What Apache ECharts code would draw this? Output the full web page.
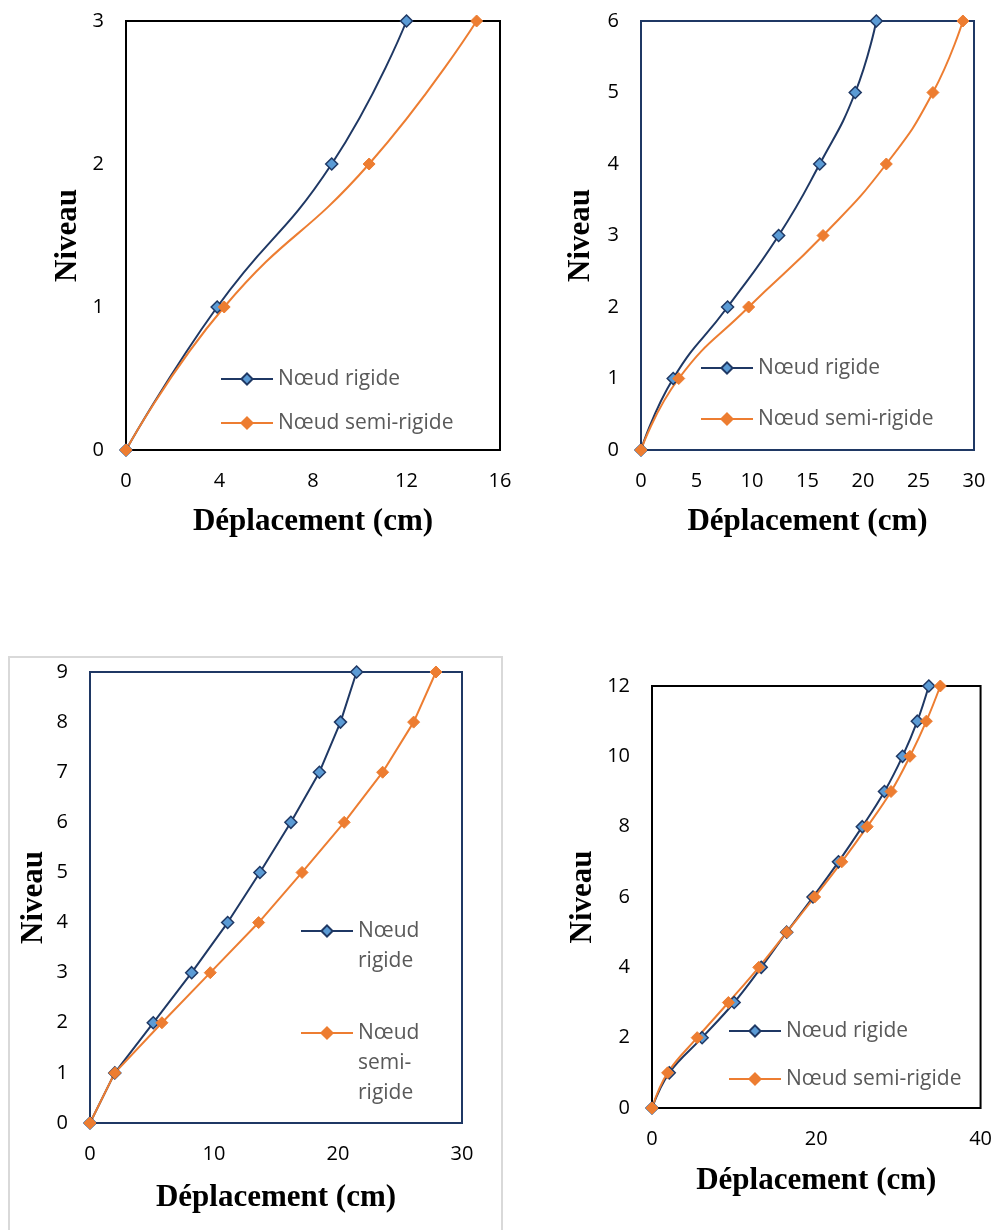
<!DOCTYPE html>
<html>
<head>
<meta charset="utf-8">
<script src="https://cdn.jsdelivr.net/npm/echarts@6/dist/echarts.min.js"></script>
<style>
  html, body { margin: 0; padding: 0; background: #fff; }
  #chart { width: 995px; height: 1230px; }
</style>
</head>
<body>
<div id="chart"></div>
<script>
// ---- Data ----
const seriesNames = ['Nœud rigide', 'Nœud semi-rigide'];

const levels1 = [0, 1, 2, 3];
const rigid1  = [0, 3.9, 8.8, 12.0];
const semi1   = [0, 4.2, 10.4, 15.0];

const levels2 = [0, 1, 2, 3, 4, 5, 6];
const rigid2  = [0, 2.9, 7.8, 12.4, 16.1, 19.3, 21.2];
const semi2   = [0, 3.4, 9.7, 16.4, 22.1, 26.3, 29.0];

const levels3 = [0, 1, 2, 3, 4, 5, 6, 7, 8, 9];
const rigid3  = [0, 2.0, 5.1, 8.2, 11.1, 13.7, 16.2, 18.5, 20.2, 21.5];
const semi3   = [0, 2.0, 5.8, 9.7, 13.6, 17.1, 20.5, 23.6, 26.1, 27.9];

const levels4 = [0, 1, 2, 3, 4, 5, 6, 7, 8, 9, 10, 11, 12];
const rigid4  = [0, 2.1, 6.1, 10.0, 13.3, 16.4, 19.6, 22.7, 25.6, 28.3, 30.5, 32.3, 33.7];
const semi4   = [0, 1.9, 5.5, 9.3, 13.0, 16.4, 19.8, 23.1, 26.2, 29.1, 31.4, 33.4, 35.1];

const xAxisTitle = 'Déplacement (cm)';
const yAxisTitle = 'Niveau';

// ---- Styles ----
const NAVY = '#1F3864';
const LIGHTBLUE = '#5B9BD5';
const ORANGE = '#ED7D31';
const tickFont = { fontFamily: 'Open Sans', fontSize: 20, color: '#000' };
const titleFont = { fontFamily: 'Liberation Serif', fontWeight: 'bold', fontSize: 31, color: '#000' };
const legendFont = { fontFamily: 'Open Sans', fontSize: 21, color: '#595959' };

function pairs(xs, ys) { return ys.map((y, i) => [xs[i], y]); }

const grids = [
  { left: 126, top: 21, width: 374, height: 429, borderColor: '#000' },
  { left: 641, top: 21, width: 333, height: 429, borderColor: NAVY },
  { left: 90,  top: 672, width: 372, height: 451, borderColor: NAVY },
  { left: 652, top: 686, width: 330, height: 422, borderColor: '#000' }
];
const xCfg = [
  { max: 16, interval: 4, nameGap: 56 },
  { max: 30, interval: 5, nameGap: 56 },
  { max: 30, interval: 10, nameGap: 59 },
  { max: 40, interval: 20, nameGap: 57 }
];
const yCfg = [
  { max: 3, interval: 1, nameGap: 43 },
  { max: 6, interval: 1, nameGap: 45 },
  { max: 9, interval: 1, nameGap: 41 },
  { max: 12, interval: 2, nameGap: 54 }
];
const smoothCfg = [true, true, false, 0.4];
const dataSets = [
  [levels1, rigid1, semi1],
  [levels2, rigid2, semi2],
  [levels3, rigid3, semi3],
  [levels4, rigid4, semi4]
];

const option = {
  animation: false,
  backgroundColor: '#fff',
  graphic: [{
    type: 'rect', z: -10,
    shape: { x: 9, y: 657, width: 493, height: 600 },
    style: { fill: 'none', stroke: '#D9D9D9', lineWidth: 2 }
  }],
  grid: grids.map(g => ({
    left: g.left, top: g.top, width: g.width, height: g.height,
    show: true, borderColor: g.borderColor, borderWidth: 2, backgroundColor: 'transparent'
  })),
  xAxis: xCfg.map((c, i) => ({
    type: 'value', gridIndex: i, min: 0, max: c.max, interval: c.interval,
    axisLine: { show: false }, axisTick: { show: false }, splitLine: { show: false },
    axisLabel: Object.assign({ margin: 21 }, tickFont),
    name: xAxisTitle, nameLocation: 'middle', nameGap: c.nameGap, nameTextStyle: titleFont
  })),
  yAxis: yCfg.map((c, i) => ({
    type: 'value', gridIndex: i, min: 0, max: c.max, interval: c.interval,
    axisLine: { show: false }, axisTick: { show: false }, splitLine: { show: false },
    axisLabel: Object.assign({ margin: 22 }, tickFont),
    name: yAxisTitle, nameLocation: 'middle', nameGap: c.nameGap, nameTextStyle: titleFont
  })),
  legend: [
    { left: 220, top: 367, itemGap: 20 },
    { left: 700, top: 356, itemGap: 27 },
    { left: 728, top: 1019, itemGap: 24 }
  ].map(l => ({
    orient: 'vertical', left: l.left, top: l.top, itemGap: l.itemGap, padding: 0,
    itemWidth: 52, itemHeight: 14, data: seriesNames,
    textStyle: Object.assign({ lineHeight: 24 }, legendFont)
  })).concat([
    {
      orient: 'vertical', left: 300, top: 886, padding: 0, itemWidth: 52, itemHeight: 14,
      data: [seriesNames[0]], formatter: () => '\nNœud\nrigide',
      textStyle: Object.assign({ lineHeight: 30 }, legendFont)
    },
    {
      orient: 'vertical', left: 300, top: 958, padding: 0, itemWidth: 52, itemHeight: 14,
      data: [seriesNames[1]], formatter: () => '\n\nNœud\nsemi-\nrigide',
      textStyle: Object.assign({ lineHeight: 30 }, legendFont)
    }
  ]),
  series: []
};

dataSets.forEach((d, i) => {
  const [lv, r, s] = d;
  option.series.push({
    name: seriesNames[0], type: 'line', xAxisIndex: i, yAxisIndex: i,
    data: pairs(r, lv), smooth: smoothCfg[i], clip: false,
    symbol: 'diamond', symbolSize: 12, showAllSymbol: true,
    itemStyle: { color: LIGHTBLUE, borderColor: NAVY, borderWidth: 1.5 },
    lineStyle: { color: NAVY, width: 2 }
  });
  option.series.push({
    name: seriesNames[1], type: 'line', xAxisIndex: i, yAxisIndex: i,
    data: pairs(s, lv), smooth: smoothCfg[i], clip: false,
    symbol: 'diamond', symbolSize: 12, showAllSymbol: true,
    itemStyle: { color: ORANGE, borderColor: ORANGE, borderWidth: 1 },
    lineStyle: { color: ORANGE, width: 2 }
  });
});

const chart = echarts.init(document.getElementById('chart'), null, { renderer: 'canvas' });
chart.setOption(option);
</script>
</body>
</html>
